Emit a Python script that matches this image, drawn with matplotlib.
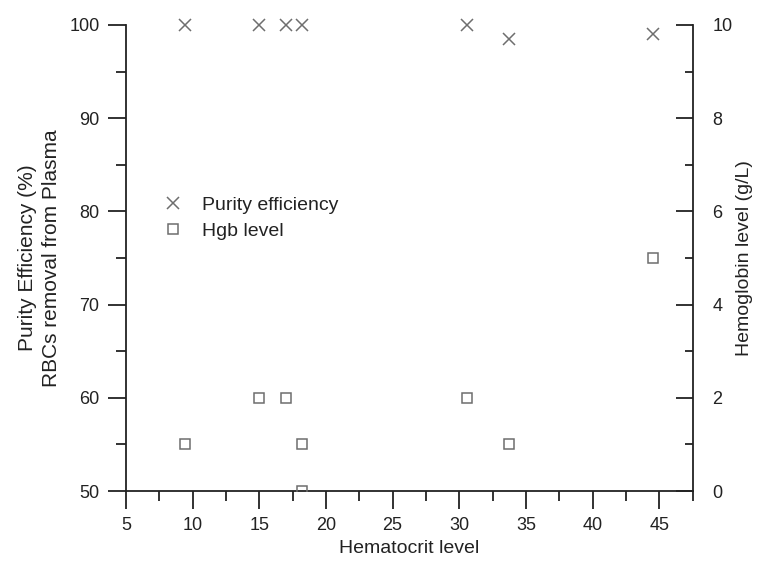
import matplotlib
matplotlib.use('Agg')
import matplotlib.pyplot as plt
from matplotlib.ticker import MultipleLocator

plt.rcParams['font.family'] = ['Liberation Sans', 'DejaVu Sans']

# Purity efficiency (%)
hct_purity = [9.4, 15.0, 17.0, 18.2, 30.6, 33.7, 44.5]
purity = [100, 100, 100, 100, 100, 98.5, 99]

# Hgb level (g/L)
hct_hgb = [9.4, 15.0, 17.0, 18.2, 18.2, 30.6, 33.7, 44.5]
hgb = [1, 2, 2, 1, 0, 2, 1, 5]

grey = '#6e6e6e'
ink = '#222222'

fig = plt.figure(figsize=(7.57, 5.72), dpi=100)
ax = fig.add_axes([0.1662, 0.1416, 0.7489, 0.8147])
ax2 = ax.twinx()

l1, = ax.plot(hct_purity, purity, linestyle='none', marker='x', ms=9, mew=1.1,
              color=grey, clip_on=False, label='Purity efficiency')
l2, = ax2.plot(hct_hgb, hgb, linestyle='none', marker='s', ms=7, mew=1.1,
               mfc='none', mec=grey, label='Hgb level')

ax.set_xlim(5, 47.5)
ax.set_ylim(50, 100)
ax2.set_ylim(0, 10)

ax.xaxis.set_major_locator(MultipleLocator(5))
ax.xaxis.set_minor_locator(MultipleLocator(2.5))
ax.yaxis.set_major_locator(MultipleLocator(10))
ax.yaxis.set_minor_locator(MultipleLocator(5))
ax2.yaxis.set_major_locator(MultipleLocator(2))
ax2.yaxis.set_minor_locator(MultipleLocator(1))

for a in (ax, ax2):
    a.spines['top'].set_visible(False)
    for s in a.spines.values():
        s.set_linewidth(1.3)
        s.set_color(ink)
ax.spines['right'].set_visible(False)
ax2.spines['left'].set_visible(False)
ax2.spines['bottom'].set_visible(False)

ax.tick_params(which='major', direction='out', length=13, width=1.3, color=ink,
               labelsize=13, labelcolor=ink, pad=6)
ax.tick_params(which='minor', direction='out', length=7, width=1.3, color=ink)
ax2.tick_params(which='major', direction='in', length=12, width=1.3, color=ink,
                labelsize=13, labelcolor=ink, pad=14)
ax2.tick_params(which='minor', direction='in', length=6, width=1.3, color=ink)

ax.set_xlabel('Hematocrit level', fontsize=14, color=ink, labelpad=4)
ax.set_ylabel('Purity Efficiency (%)\nRBCs removal from Plasma', fontsize=15,
              color=ink, labelpad=6, linespacing=1.35)
ax2.set_ylabel('Hemoglobin level (g/L)', fontsize=14, color=ink, labelpad=3)

ax.legend([l1, l2], ['Purity efficiency', 'Hgb level'], loc='upper left',
          bbox_to_anchor=(0.018, 0.67), frameon=False, fontsize=14,
          handletextpad=0.5, labelspacing=0.45, labelcolor=ink)

fig.savefig('out.png', dpi=100)
